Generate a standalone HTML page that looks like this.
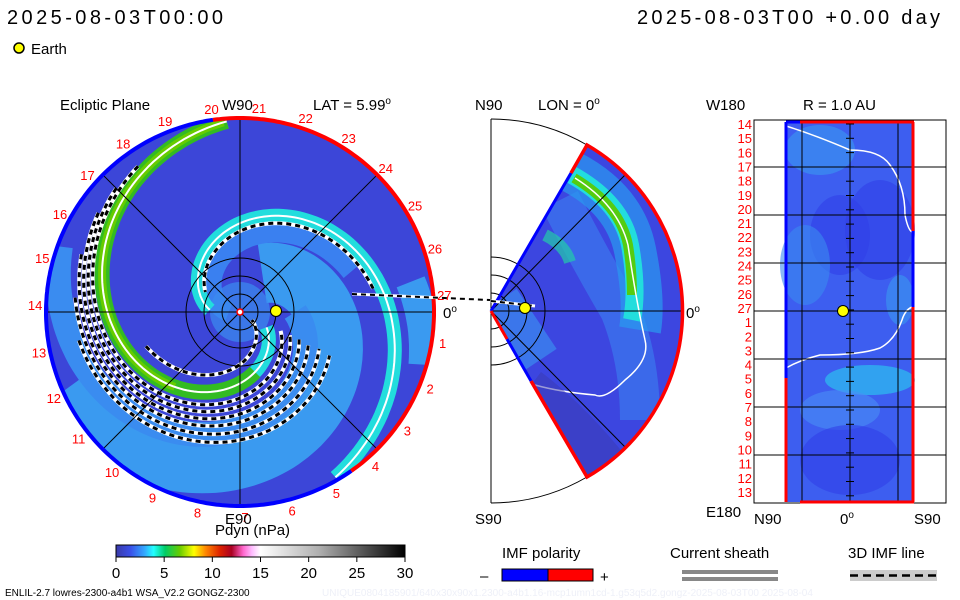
<!DOCTYPE html>
<html><head><meta charset="utf-8"><style>
html,body{margin:0;padding:0;background:#fff;}
svg{display:block;font-family:"Liberation Sans",sans-serif;}
</style></head><body>
<svg id="chart" width="960" height="600" viewBox="0 0 960 600" xmlns="http://www.w3.org/2000/svg">
<defs>
<clipPath id="discClip"><circle cx="240" cy="312" r="194"/></clipPath>
<clipPath id="wedgeClip"><path d="M491,311 L587,145 A192,192 0 0 1 587,477 Z"/></clipPath>
<linearGradient id="cbar" x1="0" x2="1" y1="0" y2="0">
<stop offset="0" stop-color="#3a3aa8"/><stop offset="0.05" stop-color="#3a50e8"/><stop offset="0.1" stop-color="#33aaff"/><stop offset="0.13" stop-color="#22ffff"/><stop offset="0.17" stop-color="#00cc66"/><stop offset="0.22" stop-color="#66cc00"/><stop offset="0.27" stop-color="#ffff00"/><stop offset="0.31" stop-color="#ff8800"/><stop offset="0.36" stop-color="#dd2200"/><stop offset="0.4" stop-color="#aa0022"/><stop offset="0.44" stop-color="#ff66cc"/><stop offset="0.47" stop-color="#ffbbff"/><stop offset="0.5" stop-color="#ffffff"/><stop offset="0.7" stop-color="#b0b0b0"/><stop offset="1" stop-color="#000000"/>
</linearGradient>
</defs>

<text x="7" y="24" font-size="20" fill="#000" textLength="216">2025-08-03T00:00</text>
<text x="637" y="24" font-size="20" fill="#000" textLength="303">2025-08-03T00 +0.00 day</text>
<g>
<circle cx="19" cy="48" r="5" fill="#ffff00" stroke="#000" stroke-width="1.5"/>
<text x="31" y="54" font-size="15">Earth</text>
</g>

<g>
<text x="60" y="110" font-size="15">Ecliptic Plane</text>
<text x="222" y="110" font-size="15">W90</text>
<text x="313" y="110" font-size="15">LAT = 5.99<tspan dy="-6" font-size="10">o</tspan></text>
<g clip-path="url(#discClip)" id="discContent">
<circle cx="240" cy="312" r="194" fill="#3c46d8"/>
</g>
<g id="leftOverlay"></g>
<text x="443" y="318" font-size="15">0<tspan dy="-6" font-size="10">o</tspan></text>
<text x="225" y="524" font-size="15">E90</text>
</g>

<g>
<text x="475" y="110" font-size="15">N90</text>
<text x="538" y="110" font-size="15">LON = 0<tspan dy="-6" font-size="10">o</tspan></text>
<g clip-path="url(#wedgeClip)" id="wedgeContent">
<rect x="480" y="130" width="210" height="360" fill="#3c46e0"/>
</g>
<g id="midOverlay"></g>
<text x="686" y="318" font-size="15">0<tspan dy="-6" font-size="10">o</tspan></text>
<text x="475" y="524" font-size="15">S90</text>
</g>

<g>
<text x="706" y="110" font-size="15">W180</text>
<text x="803" y="110" font-size="15">R = 1.0 AU</text>
<rect x="754" y="120" width="192" height="383" fill="#fff" stroke="#000" stroke-width="1"/>
<g id="rightContent"></g>
<text x="706" y="517" font-size="15">E180</text>
<text x="754" y="524" font-size="15">N90</text>
<text x="840" y="524" font-size="15">0<tspan dy="-6" font-size="10">o</tspan></text>
<text x="914" y="524" font-size="15">S90</text>
</g>

<g>
<text x="215" y="535" font-size="15">Pdyn (nPa)</text>
<rect x="116" y="545" width="289" height="12" fill="url(#cbar)" stroke="#000" stroke-width="1"/>
<g id="cbarTicks"></g>
</g>

<g>
<text x="502" y="558" font-size="15">IMF polarity</text>
<text x="480" y="581" font-size="15">–</text>
<rect x="502" y="569" width="46" height="12" fill="#0000ff" stroke="#000" stroke-width="1"/>
<rect x="548" y="569" width="45" height="12" fill="#ff0000" stroke="#000" stroke-width="1"/>
<text x="600" y="582" font-size="15">+</text>
</g>
<g>
<text x="670" y="558" font-size="15">Current sheath</text>
<rect x="682" y="570" width="96" height="4" fill="#888"/>
<rect x="682" y="577" width="96" height="4" fill="#888"/>
</g>
<g>
<text x="848" y="558" font-size="15">3D IMF line</text>
<rect x="850" y="570" width="87" height="11" fill="#ccc"/>
<line x1="850" y1="575.5" x2="937" y2="575.5" stroke="#000" stroke-width="2.5" stroke-dasharray="8,5"/>
</g>
<text x="5" y="596" font-size="10">ENLIL-2.7 lowres-2300-a4b1 WSA_V2.2 GONGZ-2300</text>
<text x="322" y="596" font-size="10" fill="#eef0f8">UNIQUE0804185901/640x30x90x1.2300-a4b1.16-mcp1umn1cd-1.g53q5d2.gongz-2025-08-03T00   2025-08-04</text>
</svg>
<script>
const NS='http://www.w3.org/2000/svg';
function mk(tag,attrs,parent){const e=document.createElementNS(NS,tag);for(const k in attrs)e.setAttribute(k,attrs[k]);parent.appendChild(e);return e;}

const cbarTickValues=[0,5,10,15,20,25,30];
const leftLonLabels=['20','21','22','23','24','25','26','27','1','2','3','4','5','6','7','8','9','10','11','12','13','14','15','16','17','18','19'];
const rightLonLabels=['14','15','16','17','18','19','20','21','22','23','24','25','26','27','1','2','3','4','5','6','7','8','9','10','11','12','13'];
const greenArmOffset=255;
const cyanArmOffset=150;
const dashedR180=[143,148,153,158,163,168];
const dashedR270=[86,94,102,110,119,128];
const dashedStartLon=[125,135,145,160,175,190];
const dashedInnerOffsets=[142,236];
const cbarMin=0, cbarMax=30;

const cx0=116,cx1=405;
function cbX(v){return cx0+(v-cbarMin)/(cbarMax-cbarMin)*(cx1-cx0);}
const cbt=document.getElementById('cbarTicks');
cbarTickValues.forEach(v=>{
  const l=mk('line',{x1:cbX(v),x2:cbX(v),y1:557,y2:562,stroke:'#000'},cbt);
  
  
  const t=mk('text',{x:cbX(v),y:578,'font-size':15,'text-anchor':'middle'},cbt);
  t.textContent=v;
  
  
});

const CX=240,CY=312,K=0.68;
function spiralK(off,k,a0,a1,rmin){let d='';let first=true;
  for(let a=a0;a<=a1;a+=2){const r=off-a*k;if(r<rmin||r>192)continue;const rad=a*Math.PI/180;
    d+=(first?'M':'L')+(CX+r*Math.cos(rad)).toFixed(1)+','+(CY-r*Math.sin(rad)).toFixed(1);first=false;}
  return d;}
function spiral(off,a0,a1,rmin){return spiralK(off,K,a0,a1,rmin);}
const dc=document.getElementById('discContent');
mk('path',{d:spiral(greenArmOffset+75,120,420,10),fill:'none',stroke:'#3a9af0','stroke-width':60},dc);
mk('path',{d:spiral(greenArmOffset+45,140,360,10),fill:'none',stroke:'#3a8cf0','stroke-width':25},dc);
mk('path',{d:spiral(cyanArmOffset+30,-90,10,10),fill:'none',stroke:'#3a9af0','stroke-width':30},dc);
mk('path',{d:spiral(cyanArmOffset-18,20,220,10),fill:'none',stroke:'#3a80f0','stroke-width':20},dc);
mk('circle',{cx:CX,cy:CY,r:30,fill:'#3a8cf0','fill-opacity':0.7},dc);
[cyanArmOffset,greenArmOffset].forEach((o,i)=>{
  mk('path',{d:spiral(o,-200,420,30),fill:'none',stroke:'#22dddd','stroke-width':14},dc);
  if(i===1){mk('path',{d:spiral(o,92,285,30),fill:'none',stroke:'#33bb22','stroke-width':15},dc);
    mk('path',{d:spiral(o,95,230,30),fill:'none',stroke:'#66cc00','stroke-width':8},dc);}
  const w=mk('path',{d:spiral(o,-200,420,30),fill:'none',stroke:'#fff','stroke-width':2},dc);
  
  
});
function dashed(d){
  mk('path',{d:d,fill:'none',stroke:'#fff','stroke-width':4},dc);
  const p=mk('path',{d:d,fill:'none',stroke:'#000','stroke-width':3,'stroke-dasharray':'5,4'},dc);
  
  
}
dashedR180.forEach((r1,i)=>{const r2=dashedR270[i];const k=(r1-r2)/90;const off=r1+180*k;
  dashed(spiralK(off,k,dashedStartLon[i],335,20));});
dashed(spiral(dashedInnerOffsets[0],10,150,14));
dashed(spiral(dashedInnerOffsets[1],200,330,14));
const lo=document.getElementById('leftOverlay');
[0,45,90,135].forEach(a=>{const r=194,rad=a*Math.PI/180;
  mk('line',{x1:CX-r*Math.cos(rad),y1:CY+r*Math.sin(rad),x2:CX+r*Math.cos(rad),y2:CY-r*Math.sin(rad),stroke:'#000','stroke-width':1},lo);});
[18,36,54].forEach(r=>mk('circle',{cx:CX,cy:CY,r:r,fill:'none',stroke:'#000','stroke-width':1},lo));
function arc(a0,a1,col){
  const r=194;let d='';for(let a=a0;a<=a1;a+=1){const rad=a*Math.PI/180;d+=(a===a0?'M':'L')+(CX+r*Math.cos(rad)).toFixed(1)+','+(CY-r*Math.sin(rad)).toFixed(1);}
  mk('path',{d:d,fill:'none',stroke:col,'stroke-width':4},lo);}
arc(98,305,'#0000ff');
arc(-55,98,'#ff0000');
mk('line',{x1:352,y1:294,x2:490,y2:300,stroke:'#fff','stroke-width':3},lo);
mk('line',{x1:352,y1:294,x2:490,y2:300,stroke:'#000','stroke-width':2,'stroke-dasharray':'5,4'},lo);
mk('circle',{cx:240,cy:312,r:3,fill:'#fff',stroke:'#f00','stroke-width':1.5},lo);
const e1=mk('circle',{cx:276,cy:311,r:5.5,fill:'#ffff00',stroke:'#000','stroke-width':1},lo);


leftLonLabels.forEach((s,i)=>{const a=(98-i*13.33)*Math.PI/180,r=205;
  const t=mk('text',{x:CX+r*Math.cos(a),y:CY-r*Math.sin(a)+5,'font-size':13,fill:'#ff0000','text-anchor':'middle'},lo);
  t.textContent=s;
  
  });

const wc=document.getElementById('wedgeContent');
mk('path',{d:'M500,300 Q520,330 540,360',fill:'none',stroke:'#3a8af0','stroke-width':40,'stroke-opacity':0.7},wc);
mk('path',{d:'M560,200 Q585,250 620,310 Q640,360 640,420',fill:'none',stroke:'#3a80f0','stroke-width':40,'stroke-opacity':0.6},wc);
mk('path',{d:'M572,172 Q625,200 635,250 Q645,300 640,330',fill:'none',stroke:'#2a9af0','stroke-width':42,'stroke-opacity':0.7},wc);
mk('path',{d:'M572,175 Q622,203 630,245 Q638,290 632,320',fill:'none',stroke:'#22dddd','stroke-width':18},wc);
mk('path',{d:'M574,178 Q620,205 628,245 Q632,270 632,295',fill:'none',stroke:'#55cc11','stroke-width':10},wc);
mk('path',{d:'M545,235 Q565,245 570,262',fill:'none',stroke:'#22ccaa','stroke-width':12,'stroke-opacity':0.7},wc);
mk('path',{d:'M575,178 Q618,205 628,245 Q636,300 645,340 Q650,360 625,380 Q605,400 595,395 Q560,392 535,385',fill:'none',stroke:'#fff','stroke-width':1.5},wc);
mk('path',{d:'M520,400 Q560,430 600,480',fill:'none',stroke:'#3a3ab0','stroke-width':70,'stroke-opacity':0.5},wc);
const mo=document.getElementById('midOverlay');
mk('path',{d:'M491,119 A192,192 0 0 1 587,145',fill:'none',stroke:'#000','stroke-width':1},mo);
mk('path',{d:'M587,477 A192,192 0 0 1 491,503',fill:'none',stroke:'#000','stroke-width':1},mo);
mk('line',{x1:491,y1:119,x2:491,y2:503,stroke:'#000','stroke-width':1},mo);
mk('line',{x1:491,y1:311,x2:683,y2:311,stroke:'#000','stroke-width':1},mo);
mk('line',{x1:491,y1:311,x2:625,y2:175,stroke:'#000','stroke-width':1},mo);
mk('line',{x1:491,y1:311,x2:625,y2:447,stroke:'#000','stroke-width':1},mo);
[18,36,54].forEach(r=>mk('path',{d:`M491,${311-r} A${r},${r} 0 0 1 491,${311+r}`,fill:'none',stroke:'#000','stroke-width':1},mo));
mk('path',{d:'M491,311 L571,173',fill:'none',stroke:'#0000ff','stroke-width':3},mo);
mk('path',{d:'M571,173 L587,145 A192,192 0 0 1 587,477 L531,381',fill:'none',stroke:'#ff0000','stroke-width':3.5},mo);
mk('path',{d:'M531,381 L507,339',fill:'none',stroke:'#0000ff','stroke-width':3},mo);
mk('path',{d:'M507,339 L491,311',fill:'none',stroke:'#ff0000','stroke-width':3},mo);
mk('line',{x1:491,y1:301,x2:535,y2:306,stroke:'#fff','stroke-width':3},mo);
mk('line',{x1:491,y1:301,x2:535,y2:306,stroke:'#000','stroke-width':2,'stroke-dasharray':'5,4'},mo);
const e2=mk('circle',{cx:525,cy:308,r:5.5,fill:'#ffff00',stroke:'#000','stroke-width':1},mo);



const rc=document.getElementById('rightContent');
const rx0=785,rx1=914,ry0=122,ry1=502;
mk('rect',{x:rx0,y:ry0,width:rx1-rx0,height:ry1-ry0,fill:'#3d5ef0'},rc);
[[820,150,35,25,'#3a9af0'],[840,235,30,40,'#3040e8'],[880,230,35,50,'#3040e8'],[805,265,25,40,'#3a8af0'],[870,380,45,15,'#2ad0f0'],[840,410,40,20,'#4a90f5'],[850,460,50,35,'#3040e8'],[900,300,14,25,'#3a9af0']].forEach(b=>{
  mk('ellipse',{cx:b[0],cy:b[1],rx:b[2],ry:b[3],fill:b[4],'fill-opacity':0.6},rc);});
mk('path',{d:'M786,126 Q815,135 850,150 Q880,150 890,165 Q905,185 905,215 Q908,230 912,232',fill:'none',stroke:'#fff','stroke-width':1.5},rc);
mk('path',{d:'M786,368 Q800,360 820,355 Q860,355 880,348 Q895,340 902,320 Q905,310 912,307',fill:'none',stroke:'#fff','stroke-width':1.5},rc);
[802,850,898].forEach(x=>mk('line',{x1:x,y1:120,x2:x,y2:503,stroke:'#000','stroke-width':1},rc));
[167,215,263,311,359,407,455].forEach(y=>mk('line',{x1:754,y1:y,x2:946,y2:y,stroke:'#000','stroke-width':1},rc));
for(let y=124;y<500;y+=14.3)mk('line',{x1:846,y1:y,x2:854,y2:y,stroke:'#000','stroke-width':1},rc);
mk('line',{x1:786,y1:122,x2:786,y2:378,stroke:'#0000ff','stroke-width':3},rc);
mk('line',{x1:786,y1:378,x2:786,y2:502,stroke:'#ff0000','stroke-width':3},rc);
mk('line',{x1:786,y1:122,x2:800,y2:122,stroke:'#0000ff','stroke-width':3},rc);
mk('line',{x1:800,y1:122,x2:914,y2:122,stroke:'#ff0000','stroke-width':3},rc);
mk('line',{x1:800,y1:502,x2:914,y2:502,stroke:'#ff0000','stroke-width':3},rc);
mk('line',{x1:913,y1:122,x2:913,y2:231,stroke:'#ff0000','stroke-width':3},rc);
mk('line',{x1:913,y1:231,x2:913,y2:307,stroke:'#0000ff','stroke-width':3},rc);
mk('line',{x1:913,y1:307,x2:913,y2:502,stroke:'#ff0000','stroke-width':3},rc);
const e3=mk('circle',{cx:843,cy:311,r:5.5,fill:'#ffff00',stroke:'#000','stroke-width':1},rc);


rightLonLabels.forEach((s,i)=>{
  const t=mk('text',{x:752,y:129+i*14.15,'font-size':13,fill:'#ff0000','text-anchor':'end'},rc);
  t.textContent=s;
  
  });
</script>
</body></html>
